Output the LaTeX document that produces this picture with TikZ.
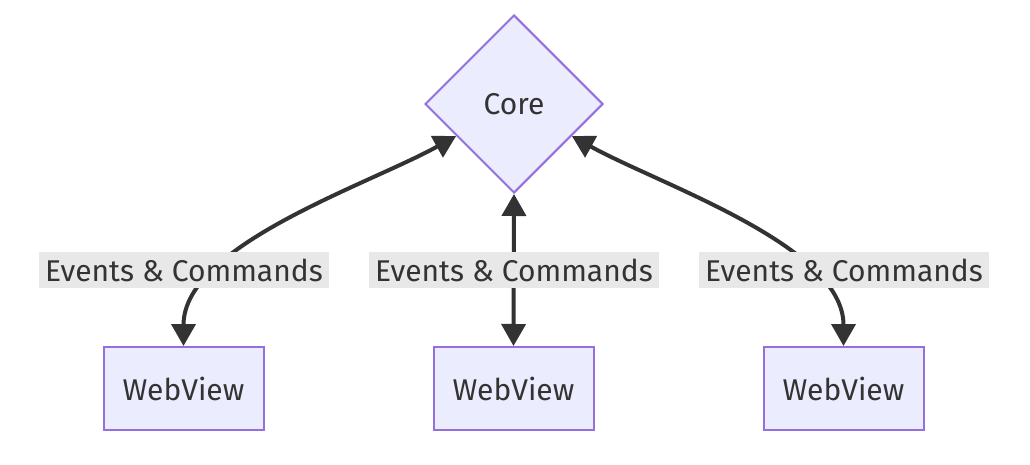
\documentclass[tikz,border=0pt]{standalone}
\usepackage{fontspec}
\setmainfont{Fira Sans}
\usetikzlibrary{arrows.meta,shapes.geometric}
\definecolor{boxfill}{HTML}{ECECFF}
\definecolor{boxline}{HTML}{9370DB}
\definecolor{ink}{HTML}{333333}
\definecolor{tagfill}{HTML}{E8E8E8}
\tikzset{
  viewbox/.style={draw=boxline, fill=boxfill, line width=2pt, minimum width=160pt,
    minimum height=83pt, inner sep=0pt, text=ink, font=\fontsize{30}{34}\selectfont},
  hub/.style={diamond, draw=boxline, fill=boxfill, line width=2pt, minimum size=178pt,
    inner sep=0pt, text=ink, font=\fontsize{30}{34}\selectfont},
  link/.style={draw=ink, line width=4pt,
    {Triangle[length=22pt,width=24pt]}-{Triangle[length=22pt,width=24pt]}},
  tag/.style={fill=tagfill, text=ink, inner sep=0pt, minimum width=290pt,
    minimum height=36pt, font=\fontsize{30}{34}\selectfont}
}
\begin{document}
\begin{tikzpicture}[x=1pt,y=1pt]
    \useasboundingbox (0,0) rectangle (1030,464);

    \node[hub] (core) at (514,360) {Core};

    \node[viewbox] (left) at (183.5,75.5) {WebView};
    \node[viewbox] (mid) at (513.5,75.5) {WebView};
    \node[viewbox] (right) at (843.5,75.5) {WebView};

    \draw[link] (core.209) to[out=209,in=90,looseness=0.75] (left.north);
    \draw[link] (core.south) -- (mid.north);
    \draw[link] (core.331) to[out=331,in=90,looseness=0.75] (right.north);

    \node[tag] (tleft) at (184,194) {Events \& Commands};
    \node[tag] (tmid) at (514,194) {Events \& Commands};
    \node[tag] (tright) at (844,194) {Events \& Commands};
\end{tikzpicture}
\end{document}
